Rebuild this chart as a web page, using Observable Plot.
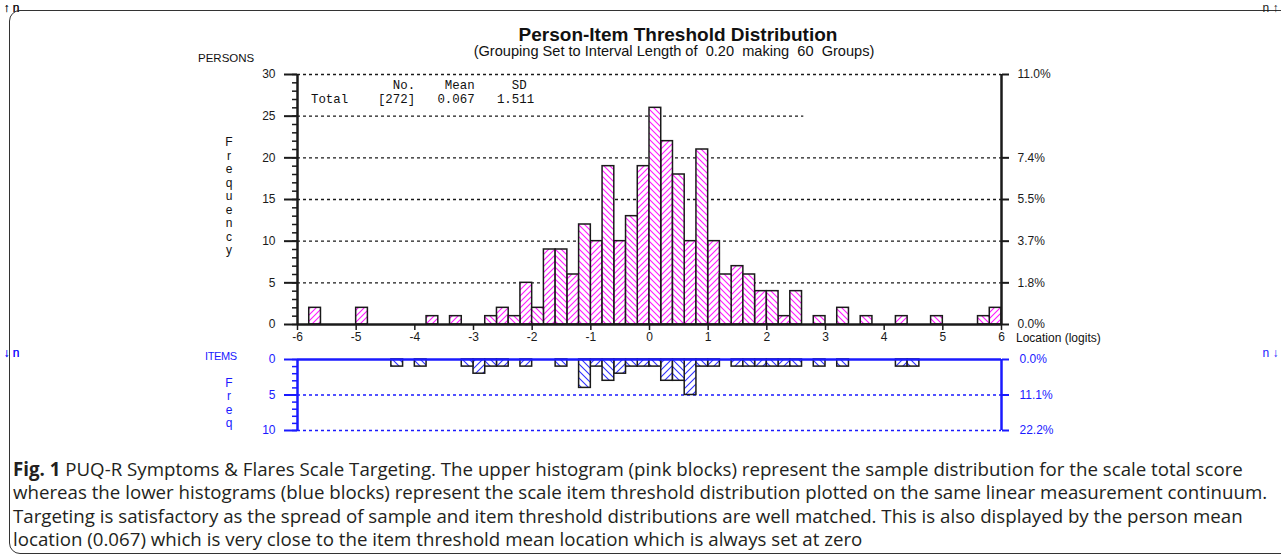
<!DOCTYPE html>
<html><head><meta charset="utf-8">
<script src="https://cdn.jsdelivr.net/npm/d3@7"></script>
<script src="https://cdn.jsdelivr.net/npm/@observablehq/plot@0.6"></script>
<style>
body{margin:0;background:#fff;}
#page{position:relative;width:1281px;height:559px;overflow:hidden;font-family:"Liberation Sans",Arial,sans-serif;color:#111;}
.abs{position:absolute;white-space:pre;line-height:1;}
#frame{position:absolute;left:9px;top:10px;width:1320px;height:542px;border:1.5px solid #333;border-radius:11px;}
.vert{position:absolute;width:12px;text-align:center;font-size:12px;line-height:13.5px;white-space:pre;}
.cap{position:absolute;left:13px;font-family:"Open Sans",sans-serif;font-size:18.7px;color:#231f20;white-space:nowrap;line-height:1;}
.mono{font-family:"Liberation Mono","Courier New",monospace;font-size:12.4px;}
</style></head><body>
<div id="page">
<div id="frame"></div>
<div id="upper" style="position:absolute;left:0;top:0;"></div>
<div id="lower" style="position:absolute;left:0;top:345px;"></div>
<div class="abs" id="title" style="left:678px;top:25px;transform:translateX(-50%);font-weight:bold;font-size:19px;">Person-Item Threshold Distribution</div>
<div class="abs" id="subtitle" style="left:674px;top:44px;transform:translateX(-50%);font-size:14.6px;">(Grouping Set to Interval Length of  0.20  making  60  Groups)</div>
<div class="abs" style="left:198px;top:53px;font-size:11.5px;">PERSONS</div>
<div class="vert" style="left:223px;top:136px;">F
r
e
q
u
e
n
c
y</div>
<div class="abs" style="left:1016px;top:332px;font-size:12px;">Location (logits)</div>
<div class="abs mono" id="statsHead" style="left:311px;top:80px;"></div>
<div class="abs mono" id="statsRow" style="left:311px;top:94px;"></div>
<div class="abs" style="left:205px;top:351px;font-size:11px;color:#1a1aff;letter-spacing:-0.4px;">ITEMS</div>
<div class="vert" style="left:223px;top:377px;color:#1a1aff;line-height:13.3px;">F
r
e
q</div>
<div class="cap" style="top:460px;"><b>Fig. 1</b> PUQ-R Symptoms &amp; Flares Scale Targeting. The upper histogram (pink blocks) represent the sample distribution for the scale total score</div>
<div class="cap" style="top:483px;">whereas the lower histograms (blue blocks) represent the scale item threshold distribution plotted on the same linear measurement continuum.</div>
<div class="cap" style="top:507px;">Targeting is satisfactory as the spread of sample and item threshold distributions are well matched. This is also displayed by the person mean</div>
<div class="cap" style="top:530px;">location (0.067) which is very close to the item threshold mean location which is always set at zero</div>
</div>
<script>
// ---- data ----
const binWidth = 0.2;
const personBinStart = [-5.8,-5.0,-3.8,-3.4,-2.8,-2.6,-2.4,-2.2,-2.0,-1.8,-1.6,-1.4,-1.2,-1.0,-0.8,-0.6,-0.4,-0.2,0.0,0.2,0.4,0.6,0.8,1.0,1.2,1.4,1.6,1.8,2.0,2.2,2.4,2.8,3.2,3.6,4.2,4.8,5.6,5.8];
const personCounts   = [2,2,1,1,1,2,1,5,2,9,9,6,12,10,19,10,13,19,26,22,18,10,21,10,6,7,6,4,4,1,4,1,2,1,1,1,1,2];
const itemBinStart = [-4.4,-4.0,-3.2,-3.0,-2.8,-2.6,-2.2,-1.6,-1.2,-1.0,-0.8,-0.6,-0.4,-0.2,0.0,0.2,0.4,0.6,0.8,1.0,1.4,1.6,1.8,2.0,2.2,2.4,2.8,3.2,4.2,4.4];
const itemCounts   = [1,1,1,2,1,1,1,1,4,1,3,2,1,1,1,3,3,5,1,1,1,1,1,1,1,1,1,1,1,1];
const xTicks = [-6,-5,-4,-3,-2,-1,0,1,2,3,4,5,6];
const personYTicks = [0,5,10,15,20,25,30];
const personRightTicks = [0,5,10,15,20,30];
const personGrid = [5,10,15,20,30];
const personShortGrid = [25];
const itemYTicks = [0,5,10];
const itemGrid = [5,10];
const statsHeader = "           No.    Mean     SD";
const statsTotal  = "Total    [272]   0.067   1.511";

const personTotal = d3.sum(personCounts);
const itemTotal = d3.sum(itemCounts);
const toRows = (starts, counts) => starts.map((s, i) => ({x1: s, x2: +(s + binWidth).toFixed(1), n: counts[i], idx: Math.round((s + 6) / binWidth)}));
const persons = toRows(personBinStart, personCounts);
const items = toRows(itemBinStart, itemCounts);

document.getElementById("statsHead").textContent = statsHeader;
document.getElementById("statsRow").textContent = statsTotal;

const BLUE = "#1a1aff";
const INK = "#1a1a1a";

function addPatterns(svg, prefix, color, size) {
  const defs = d3.select(svg).insert("defs", ":first-child");
  const mk = (id, d) => {
    const p = defs.append("pattern").attr("id", id).attr("patternUnits", "userSpaceOnUse")
      .attr("width", size).attr("height", size);
    p.append("rect").attr("width", size).attr("height", size).attr("fill", "white");
    p.append("path").attr("d", d).attr("stroke", color).attr("stroke-width", 1.1).attr("fill", "none");
  };
  const s = size;
  mk(prefix + "F", `M-1,1 L1,-1 M0,${s} L${s},0 M${s-1},${s+1} L${s+1},${s-1}`);
  mk(prefix + "B", `M-1,${s-1} L1,${s+1} M0,0 L${s},${s} M${s-1},-1 L${s+1},1`);
}

// ---- upper: persons ----
const upper = Plot.plot({
  width: 1281, height: 345,
  marginTop: 74, marginBottom: 21, marginLeft: 297, marginRight: 280,
  style: {background: "transparent", fontFamily: "'Liberation Sans', Arial, sans-serif", fontSize: "12px", color: INK},
  x: {domain: [-6, 6]},
  y: {domain: [0, 30]},
  marks: [
    Plot.ruleY(personGrid, {stroke: INK, strokeWidth: 1.4, strokeDasharray: "3,3"}),
    Plot.ruleY(personShortGrid, {x1: -6, x2: 2.63, stroke: INK, strokeWidth: 1.4, strokeDasharray: "3,3"}),
    Plot.rectY(persons.filter(d => d.idx % 2 === 1), {x1: "x1", x2: "x2", y: "n", fill: "url(#pinkF)", stroke: INK, strokeWidth: 1.5}),
    Plot.rectY(persons.filter(d => d.idx % 2 === 0), {x1: "x1", x2: "x2", y: "n", fill: "url(#pinkB)", stroke: INK, strokeWidth: 1.5}),
    Plot.ruleY([0], {stroke: INK, strokeWidth: 2.5}),
    Plot.ruleX([-6, 6], {y1: 0, y2: 30, stroke: INK, strokeWidth: 2.5}),
    Plot.axisY({ticks: d3.range(0, 31), tickSize: 5, text: null, strokeWidth: 1.5}),
    Plot.axisY({ticks: personYTicks, tickSize: 13, tickPadding: 9, strokeWidth: 2, tickFormat: d => String(d), fontSize: 12}),
    Plot.axisY({anchor: "right", ticks: personRightTicks, tickSize: 7, tickPadding: 9, strokeWidth: 2, fontSize: 12,
      tickFormat: d => (d / personTotal * 100).toFixed(1) + "%"}),
    Plot.axisX({ticks: xTicks, tickSize: 6, tickPadding: 2, strokeWidth: 1.5, fontSize: 12, tickFormat: d => String(d)})
  ]
});
addPatterns(upper, "pink", "#ff1aff", 6);
document.getElementById("upper").append(upper);

// ---- lower: item thresholds ----
const lower = Plot.plot({
  width: 1281, height: 95,
  marginTop: 14, marginBottom: 10, marginLeft: 297, marginRight: 280,
  style: {background: "transparent", fontFamily: "'Liberation Sans', Arial, sans-serif", fontSize: "12px", color: BLUE},
  x: {domain: [-6, 6], axis: null},
  y: {domain: [0, 10], reverse: true},
  marks: [
    Plot.ruleY(itemGrid, {stroke: BLUE, strokeWidth: 1.4, strokeDasharray: "3,3"}),
    Plot.rectY(items.filter(d => d.idx % 2 === 1), {x1: "x1", x2: "x2", y: "n", fill: "url(#blueF)", stroke: INK, strokeWidth: 1.5}),
    Plot.rectY(items.filter(d => d.idx % 2 === 0), {x1: "x1", x2: "x2", y: "n", fill: "url(#blueB)", stroke: INK, strokeWidth: 1.5}),
    Plot.ruleY([0], {stroke: BLUE, strokeWidth: 2.5}),
    Plot.ruleX([-6, 6], {y1: 0, y2: 10, stroke: BLUE, strokeWidth: 2.5}),
    Plot.axisY({ticks: d3.range(0, 11), tickSize: 5, text: null, stroke: BLUE, strokeWidth: 1.5}),
    Plot.axisY({ticks: itemYTicks, tickSize: 13, tickPadding: 9, stroke: BLUE, fill: BLUE, strokeWidth: 2, fontSize: 12, tickFormat: d => String(d)}),
    Plot.axisY({anchor: "right", ticks: itemYTicks, tickSize: 7, tickPadding: 11, stroke: BLUE, fill: BLUE, strokeWidth: 2, fontSize: 12,
      tickFormat: d => (d / itemTotal * 100).toFixed(1) + "%"})
  ]
});
addPatterns(lower, "blue", "#3030ff", 7);
document.getElementById("lower").append(lower);
</script>
</body></html>
